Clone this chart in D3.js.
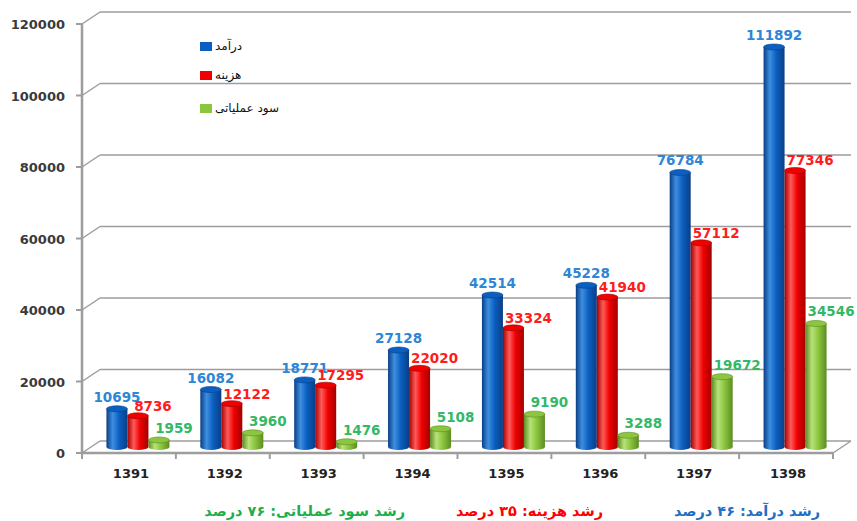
<!DOCTYPE html>
<html>
<head>
<meta charset="utf-8">
<script src="https://d3js.org/d3.v7.min.js"></script>
<style>
  body { margin: 0; background: #fff; }
  svg { display: block; }
</style>
</head>
<body>
<div id="chart"></div>
<script>
// chart data
var years = ["1391", "1392", "1393", "1394", "1395", "1396", "1397", "1398"];
var revenue = [10695, 16082, 18771, 27128, 42514, 45228, 76784, 111892];
var cost = [8736, 12122, 17295, 22020, 33324, 41940, 57112, 77346];
var profit = [1959, 3960, 1476, 5108, 9190, 3288, 19672, 34546];
var seriesNames = ["درآمد", "هزینه", "سود عملیاتی"];
var yTicks = [0, 20000, 40000, 60000, 80000, 100000, 120000];
var notes = ["رشد درآمد: ۴۶ درصد", "رشد هزینه: ۳۵ درصد", "رشد سود عملیاتی: ۷۶ درصد"];

var width = 857, height = 521;
var depthX = 18, depthY = -12;

var svg = d3.select("#chart").append("svg")
  .attr("width", width).attr("height", height);

var x = d3.scaleBand().domain(years).range([82, 833]);
var y = d3.scaleLinear().domain([0, 120000]).range([453, 24]);
var inner = d3.scaleBand().domain([0, 1, 2]).range([0, 63]);

var series = [
  { values: revenue, dark: "#0a3e86", mid: "#0b5fc0", light: "#3e8fe0", text: "#2e86d6", key: "b" },
  { values: cost, dark: "#a30000", mid: "#f00000", light: "#ff5a5a", text: "#ff1c1c", key: "r" },
  { values: profit, dark: "#5d8c23", mid: "#8cc63f", light: "#b8e27a", text: "#33b865", key: "g" }
];

// gradients for the cylinders
var defs = svg.append("defs");
series.forEach(function (s) {
  var g = defs.append("linearGradient").attr("id", "grad-" + s.key)
    .attr("x1", "0%").attr("x2", "100%").attr("y1", "0%").attr("y2", "0%");
  g.append("stop").attr("offset", "0%").attr("stop-color", s.dark);
  g.append("stop").attr("offset", "30%").attr("stop-color", s.light);
  g.append("stop").attr("offset", "60%").attr("stop-color", s.mid);
  g.append("stop").attr("offset", "100%").attr("stop-color", s.dark);
});

var gridColor = "#9d9d9d";

// back wall grid lines with diagonal joints
yTicks.forEach(function (t) {
  var yy = y(t);
  svg.append("line")
    .attr("x1", 82).attr("y1", yy).attr("x2", 82 + depthX).attr("y2", yy + depthY)
    .attr("stroke", gridColor).attr("stroke-width", 1.5);
  svg.append("line")
    .attr("x1", 82 + depthX).attr("y1", yy + depthY).attr("x2", 833 + depthX).attr("y2", yy + depthY)
    .attr("stroke", gridColor).attr("stroke-width", 1.5);
  svg.append("line")
    .attr("x1", 76).attr("y1", yy).attr("x2", 82).attr("y2", yy)
    .attr("stroke", gridColor).attr("stroke-width", 2);
  svg.append("text")
    .attr("x", 65).attr("y", yy + 5)
    .attr("text-anchor", "end")
    .attr("font-family", "DejaVu Sans, sans-serif")
    .attr("font-size", 13).attr("font-weight", "bold")
    .attr("fill", "#3a3a3a")
    .text(t);
});

// floor
svg.append("line")
  .attr("x1", 833).attr("y1", y(0)).attr("x2", 833 + depthX).attr("y2", y(0) + depthY)
  .attr("stroke", gridColor).attr("stroke-width", 1.5);

// vertical axis
svg.append("line")
  .attr("x1", 82).attr("y1", y(120000)).attr("x2", 82).attr("y2", y(0))
  .attr("stroke", gridColor).attr("stroke-width", 2.5);

// cylinders
var mdx = depthX / 2, mdy = depthY / 2;
var bw = inner.bandwidth();
var off = (x.bandwidth() - 63) / 2;

years.forEach(function (yr, i) {
  series.forEach(function (s, j) {
    var v = s.values[i];
    var x0 = x(yr) + off + inner(j) + mdx;
    var top = y(v) + mdy;
    var base = y(0) + mdy;
    var g = svg.append("g");
    g.append("ellipse")
      .attr("cx", x0 + bw / 2).attr("cy", base)
      .attr("rx", bw / 2).attr("ry", 3)
      .attr("fill", "url(#grad-" + s.key + ")");
    g.append("rect")
      .attr("x", x0).attr("y", top).attr("width", bw).attr("height", base - top)
      .attr("fill", "url(#grad-" + s.key + ")");
    g.append("ellipse")
      .attr("cx", x0 + bw / 2).attr("cy", top)
      .attr("rx", bw / 2).attr("ry", 3)
      .attr("fill", s.mid).attr("stroke", s.dark).attr("stroke-width", 0.6);
  });
});

// front floor line drawn over bar bottoms
svg.append("line")
  .attr("x1", 82).attr("y1", y(0)).attr("x2", 833).attr("y2", y(0))
  .attr("stroke", gridColor).attr("stroke-width", 2.5);

// x ticks and labels
x.domain().forEach(function (yr, i) {
  svg.append("line")
    .attr("x1", x(yr) + x.bandwidth()).attr("y1", y(0))
    .attr("x2", x(yr) + x.bandwidth()).attr("y2", y(0) + 6)
    .attr("stroke", gridColor).attr("stroke-width", 2);
  svg.append("text")
    .attr("x", x(yr) + x.bandwidth() / 2 + 2).attr("y", 478)
    .attr("text-anchor", "middle")
    .attr("font-family", "DejaVu Sans, sans-serif")
    .attr("font-size", 13).attr("font-weight", "bold")
    .attr("fill", "#222")
    .text(yr);
});
svg.append("line")
  .attr("x1", 82).attr("y1", y(0)).attr("x2", 82).attr("y2", y(0) + 6)
  .attr("stroke", gridColor).attr("stroke-width", 2);

// value labels (red ones sit a touch lower, as in the source)
years.forEach(function (yr, i) {
  series.forEach(function (s, j) {
    var v = s.values[i];
    var cx = x(yr) + off + inner(j) + mdx + bw / 2;
    svg.append("text")
      .attr("x", j === 0 ? cx : cx + 15)
      .attr("y", y(v) + mdy - (j === 1 ? 5 : 7))
      .attr("text-anchor", "middle")
      .attr("font-family", "DejaVu Sans, sans-serif")
      .attr("font-size", 13.5).attr("font-weight", "bold")
      .attr("fill", s.text)
      .text(v);
  });
});

// legend
var legendY = [46, 75, 108];
series.forEach(function (s, j) {
  svg.append("rect")
    .attr("x", 200).attr("y", legendY[j] - 4).attr("width", 12).attr("height", 9)
    .attr("fill", s.mid);
  svg.append("text")
    .attr("x", 215).attr("y", legendY[j] + 4)
    .attr("font-family", "DejaVu Sans, sans-serif")
    .attr("font-size", 12)
    .attr("fill", "#111")
    .text(seriesNames[j]);
});

// growth notes at the bottom
var noteRight = [820, 603, 405];
var noteColor = ["#1f6fc4", "#ff0000", "#1fae4a"];
notes.forEach(function (n, j) {
  svg.append("text")
    .attr("x", noteRight[j]).attr("y", 516)
    .attr("direction", "rtl")
    .attr("text-anchor", "start")
    .attr("font-family", "DejaVu Sans, sans-serif")
    .attr("font-size", 14.5).attr("font-weight", "bold")
    .attr("fill", noteColor[j])
    .text(n);
});
</script>
</body>
</html>
